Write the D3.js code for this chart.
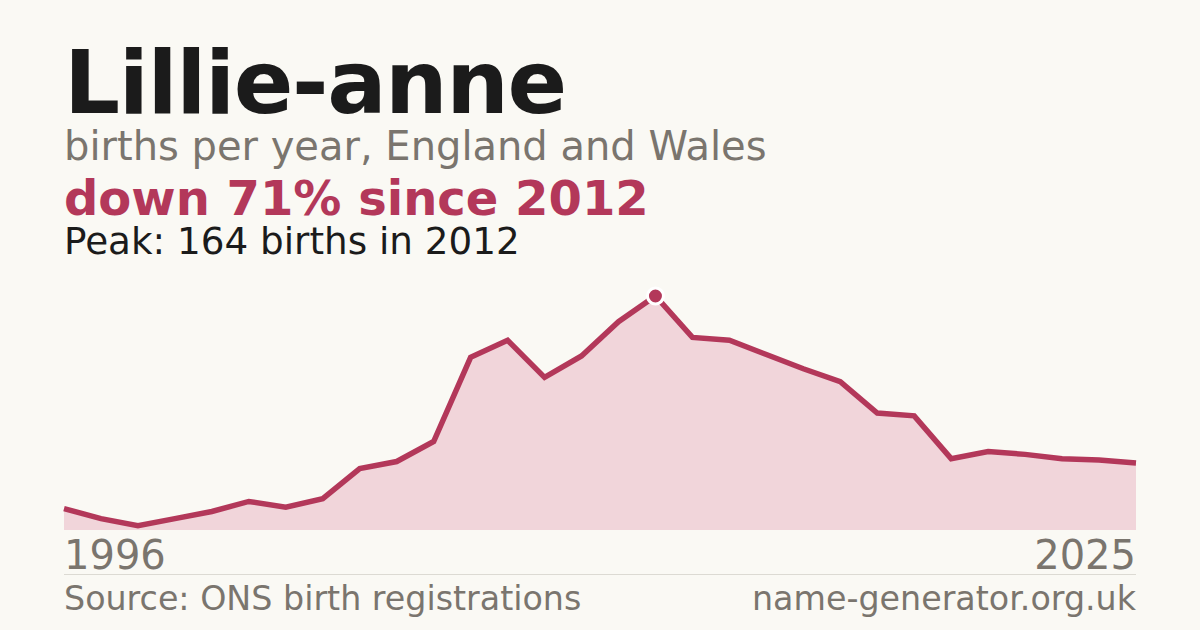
<!DOCTYPE html>
<html>
<head>
<meta charset="utf-8">
<script src="https://cdn.jsdelivr.net/npm/d3@7"></script>
<style>
  html, body { margin: 0; padding: 0; background: #faf9f4; }
  svg { display: block; font-family: "DejaVu Sans", sans-serif; }
</style>
</head>
<body>
<svg id="chart" width="1200" height="630"></svg>
<script>
// births per year for the name, England and Wales
const years = d3.range(1996, 2026);
const births = [15, 8, 3, 8, 13, 20, 16, 22, 43, 48, 62, 121, 133, 107, 122, 146,
  164, 135, 133, 123, 113, 104, 82, 80, 50, 55, 53, 50, 49, 47];
const tickYears = [1996, 2025];

const red = "#b3385a";
const grey = "#7a756e";

const svg = d3.select("#chart");
svg.append("rect").attr("width", 1200).attr("height", 630).attr("fill", "#faf9f4");

const peakIdx = d3.maxIndex(births);
const peakVal = births[peakIdx];
const peakYear = years[peakIdx];
const lastVal = births[births.length - 1];
const drop = Math.round((1 - lastVal / peakVal) * 100);

// heading texts
svg.append("text")
  .attr("x", 64).attr("y", 113)
  .attr("font-size", 88).attr("font-weight", "bold")
  .attr("letter-spacing", -1.4)
  .attr("fill", "#1b1b1b")
  .text("Lillie-anne");

svg.append("text")
  .attr("x", 64).attr("y", 160)
  .attr("font-size", 40)
  .attr("fill", grey)
  .text("births per year, England and Wales");

svg.append("text")
  .attr("x", 64).attr("y", 215)
  .attr("font-size", 48).attr("font-weight", "bold")
  .attr("fill", red)
  .text(`down ${drop}% since ${peakYear}`);

svg.append("text")
  .attr("x", 64).attr("y", 254)
  .attr("font-size", 37.3)
  .attr("fill", "#1b1b1b")
  .text(`Peak: ${peakVal} births in ${peakYear}`);

// scales
const x = d3.scaleLinear().domain([1996, 2025]).range([64, 1136]);
const y = d3.scaleLinear().domain([0, peakVal]).range([530, 296]);

const area = d3.area()
  .x((d, i) => x(years[i]))
  .y0(y(0))
  .y1((d) => y(d));

const line = d3.line()
  .x((d, i) => x(years[i]))
  .y((d) => y(d));

svg.append("path")
  .datum(births)
  .attr("d", area)
  .attr("fill", "#f1d5da");

svg.append("path")
  .datum(births)
  .attr("d", line)
  .attr("fill", "none")
  .attr("stroke", red)
  .attr("stroke-width", 5.5)
  .attr("stroke-linejoin", "miter");

// peak marker
svg.append("circle")
  .attr("cx", x(peakYear))
  .attr("cy", y(peakVal))
  .attr("r", 8)
  .attr("fill", red)
  .attr("stroke", "#ffffff")
  .attr("stroke-width", 3);

// year labels
svg.selectAll("text.year")
  .data(tickYears)
  .join("text")
  .attr("class", "year")
  .attr("x", (d) => x(d))
  .attr("y", 569)
  .attr("text-anchor", (d, i) => (i === 0 ? "start" : "end"))
  .attr("font-size", 40)
  .attr("fill", grey)
  .text((d) => d);

// footer
svg.append("line")
  .attr("x1", 64).attr("x2", 1136)
  .attr("y1", 574.5).attr("y2", 574.5)
  .attr("stroke", "#dcdad3")
  .attr("stroke-width", 1);

svg.append("text")
  .attr("x", 64).attr("y", 610)
  .attr("font-size", 33.3)
  .attr("fill", grey)
  .text("Source: ONS birth registrations");

svg.append("text")
  .attr("x", 1136).attr("y", 610)
  .attr("text-anchor", "end")
  .attr("font-size", 33.3)
  .attr("fill", grey)
  .text("name-generator.org.uk");
</script>
</body>
</html>
